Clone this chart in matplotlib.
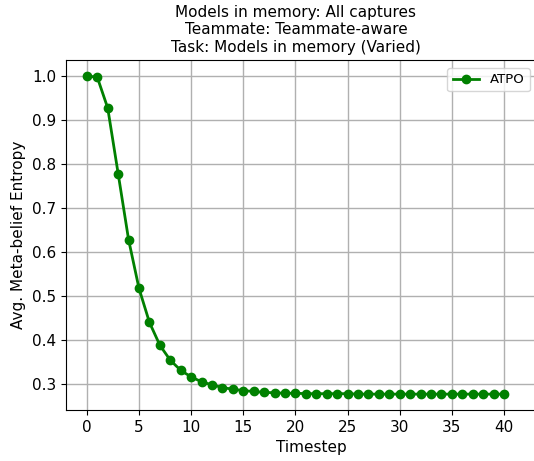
import matplotlib
matplotlib.use("Agg")
import matplotlib.pyplot as plt

timesteps = list(range(0, 41))
entropy = [1.000, 0.997, 0.927, 0.778, 0.628, 0.517, 0.440, 0.388, 0.354, 0.331,
           0.316, 0.305, 0.298, 0.292, 0.288, 0.285, 0.283, 0.281, 0.280, 0.279,
           0.279, 0.278, 0.278, 0.278, 0.278, 0.278, 0.277, 0.277, 0.277, 0.277,
           0.277, 0.277, 0.277, 0.277, 0.277, 0.277, 0.277, 0.277, 0.277, 0.277,
           0.277]
xticks = [0, 5, 10, 15, 20, 25, 30, 35, 40]

fig = plt.figure(figsize=(5.34, 4.61), dpi=100)
# axes runs past the right edge of the picture, as in the reference
ax = fig.add_axes([0.1236, 0.1106, 0.918, 0.7592])
ax.plot(timesteps, entropy, color="green", marker="o", linewidth=2, markersize=6, label="ATPO")
ax.set_title("Models in memory: All captures\nTeammate: Teammate-aware\nTask: Models in memory (Varied)",
             fontsize=11, x=0.469)
ax.set_xlabel("Timestep", fontsize=11)
ax.set_ylabel("Avg. Meta-belief Entropy", fontsize=11)
ax.set_xticks(xticks)
ax.set_xlim(-2, 45)
ax.tick_params(labelsize=11)
ax.grid(True, color="#b0b0b0", linewidth=1)
ax.legend(loc="upper right", fontsize=9.5, bbox_to_anchor=(1.004, 0.867),
          bbox_transform=fig.transFigure)

fig.savefig("out.png", dpi=100)
